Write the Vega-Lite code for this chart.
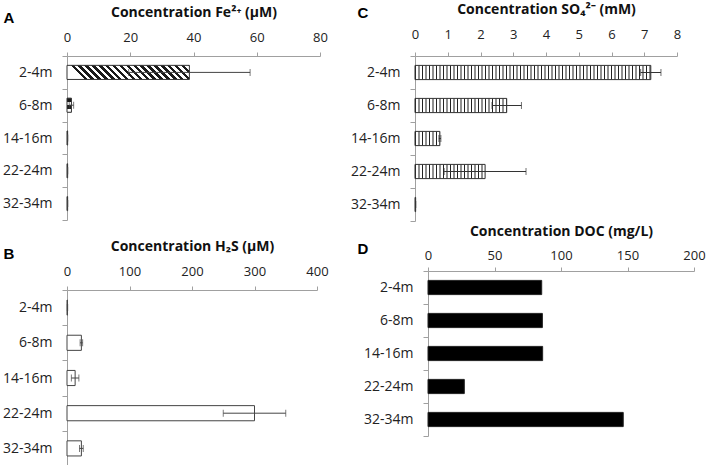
{
  "$schema": "https://vega.github.io/schema/vega-lite/v6.json",
  "padding": {"left": 2, "top": 2, "right": 5, "bottom": 2},
  "background": "white",
  "datasets": {
    "fe": [
      {"depth": "2-4m", "value": 38.7, "err": 19.2},
      {"depth": "6-8m", "value": 1.4, "err": 0.7},
      {"depth": "14-16m", "value": 0.2, "err": 0},
      {"depth": "22-24m", "value": 0.2, "err": 0},
      {"depth": "32-34m", "value": 0.2, "err": 0}
    ],
    "h2s": [
      {"depth": "2-4m", "value": 0.8, "err": 0.3},
      {"depth": "6-8m", "value": 23, "err": 2},
      {"depth": "14-16m", "value": 13, "err": 6},
      {"depth": "22-24m", "value": 300, "err": 50},
      {"depth": "32-34m", "value": 23, "err": 3}
    ],
    "so4": [
      {"depth": "2-4m", "value": 7.2, "err": 0.31},
      {"depth": "6-8m", "value": 2.8, "err": 0.45},
      {"depth": "14-16m", "value": 0.76, "err": 0.03},
      {"depth": "22-24m", "value": 2.14, "err": 1.25},
      {"depth": "32-34m", "value": 0.02, "err": 0}
    ],
    "doc": [
      {"depth": "2-4m", "value": 85.5},
      {"depth": "6-8m", "value": 86},
      {"depth": "14-16m", "value": 86.2},
      {"depth": "22-24m", "value": 27.3},
      {"depth": "32-34m", "value": 146.8}
    ]
  },
  "spacing": 21,
  "hconcat": [
    {
      "spacing": 18,
      "vconcat": [
        {
          "width": 253,
          "height": 164,
          "data": {"name": "fe"},
          "encoding": {
            "y": {"field": "depth", "type": "nominal", "sort": ["2-4m", "6-8m", "14-16m", "22-24m", "32-34m"], "scale": {"paddingInner": 0, "paddingOuter": 0},
              "axis": {"title": "A", "titleX": -64, "titleY": -34}},
            "x": {"field": "value", "type": "quantitative", "scale": {"domain": [0, 80], "nice": false}, "axis": {"title": "Concentration Fe²⁺ (µM)", "values": [0, 20, 40, 60, 80]}}
          },
          "layer": [
            {
              "mark": {"type": "bar", "height": {"band": 0.43}, "stroke": "#333", "strokeWidth": 1,
                "fill": {"gradient": "linear", "x1": 0, "y1": 0, "x2": 1, "y2": -0.1148, "stops": [
                  {"offset": 0, "color": "#fff"}, {"offset": 0.0278, "color": "#fff"}, {"offset": 0.0278, "color": "#1a1a1a"}, {"offset": 0.0556, "color": "#1a1a1a"},
                  {"offset": 0.0556, "color": "#fff"}, {"offset": 0.0833, "color": "#fff"}, {"offset": 0.0833, "color": "#1a1a1a"}, {"offset": 0.1111, "color": "#1a1a1a"},
                  {"offset": 0.1111, "color": "#fff"}, {"offset": 0.1389, "color": "#fff"}, {"offset": 0.1389, "color": "#1a1a1a"}, {"offset": 0.1667, "color": "#1a1a1a"},
                  {"offset": 0.1667, "color": "#fff"}, {"offset": 0.1944, "color": "#fff"}, {"offset": 0.1944, "color": "#1a1a1a"}, {"offset": 0.2222, "color": "#1a1a1a"},
                  {"offset": 0.2222, "color": "#fff"}, {"offset": 0.25, "color": "#fff"}, {"offset": 0.25, "color": "#1a1a1a"}, {"offset": 0.2778, "color": "#1a1a1a"},
                  {"offset": 0.2778, "color": "#fff"}, {"offset": 0.3056, "color": "#fff"}, {"offset": 0.3056, "color": "#1a1a1a"}, {"offset": 0.3333, "color": "#1a1a1a"},
                  {"offset": 0.3333, "color": "#fff"}, {"offset": 0.3611, "color": "#fff"}, {"offset": 0.3611, "color": "#1a1a1a"}, {"offset": 0.3889, "color": "#1a1a1a"},
                  {"offset": 0.3889, "color": "#fff"}, {"offset": 0.4167, "color": "#fff"}, {"offset": 0.4167, "color": "#1a1a1a"}, {"offset": 0.4444, "color": "#1a1a1a"},
                  {"offset": 0.4444, "color": "#fff"}, {"offset": 0.4722, "color": "#fff"}, {"offset": 0.4722, "color": "#1a1a1a"}, {"offset": 0.5, "color": "#1a1a1a"},
                  {"offset": 0.5, "color": "#fff"}, {"offset": 0.5278, "color": "#fff"}, {"offset": 0.5278, "color": "#1a1a1a"}, {"offset": 0.5556, "color": "#1a1a1a"},
                  {"offset": 0.5556, "color": "#fff"}, {"offset": 0.5833, "color": "#fff"}, {"offset": 0.5833, "color": "#1a1a1a"}, {"offset": 0.6111, "color": "#1a1a1a"},
                  {"offset": 0.6111, "color": "#fff"}, {"offset": 0.6389, "color": "#fff"}, {"offset": 0.6389, "color": "#1a1a1a"}, {"offset": 0.6667, "color": "#1a1a1a"},
                  {"offset": 0.6667, "color": "#fff"}, {"offset": 0.6944, "color": "#fff"}, {"offset": 0.6944, "color": "#1a1a1a"}, {"offset": 0.7222, "color": "#1a1a1a"},
                  {"offset": 0.7222, "color": "#fff"}, {"offset": 0.75, "color": "#fff"}, {"offset": 0.75, "color": "#1a1a1a"}, {"offset": 0.7778, "color": "#1a1a1a"},
                  {"offset": 0.7778, "color": "#fff"}, {"offset": 0.8056, "color": "#fff"}, {"offset": 0.8056, "color": "#1a1a1a"}, {"offset": 0.8333, "color": "#1a1a1a"},
                  {"offset": 0.8333, "color": "#fff"}, {"offset": 0.8611, "color": "#fff"}, {"offset": 0.8611, "color": "#1a1a1a"}, {"offset": 0.8889, "color": "#1a1a1a"},
                  {"offset": 0.8889, "color": "#fff"}, {"offset": 0.9167, "color": "#fff"}, {"offset": 0.9167, "color": "#1a1a1a"}, {"offset": 0.9444, "color": "#1a1a1a"},
                  {"offset": 0.9444, "color": "#fff"}, {"offset": 0.9722, "color": "#fff"}, {"offset": 0.9722, "color": "#1a1a1a"}, {"offset": 1, "color": "#1a1a1a"}
                ]}
              }
            },
            {
              "mark": {"type": "errorbar", "color": "#444", "thickness": 1, "ticks": {"size": 7, "thickness": 1}},
              "encoding": {"xError": {"field": "err"}}
            }
          ]
        },
        {
          "width": 250,
          "height": 176,
          "data": {"name": "h2s"},
          "encoding": {
            "y": {"field": "depth", "type": "nominal", "sort": ["2-4m", "6-8m", "14-16m", "22-24m", "32-34m"], "scale": {"paddingInner": 0, "paddingOuter": 0},
              "axis": {"title": "B", "titleX": -64, "titleY": -32}},
            "x": {"field": "value", "type": "quantitative", "scale": {"domain": [0, 400], "nice": false}, "axis": {"title": "Concentration H₂S (µM)", "values": [0, 100, 200, 300, 400]}}
          },
          "layer": [
            {"mark": {"type": "bar", "height": {"band": 0.43}, "fill": "#fff", "stroke": "#444", "strokeWidth": 1}},
            {
              "mark": {"type": "errorbar", "color": "#444", "thickness": 1, "ticks": {"size": 7, "thickness": 1}},
              "encoding": {"xError": {"field": "err"}}
            }
          ]
        }
      ]
    },
    {
      "spacing": 2,
      "vconcat": [
        {
          "width": 262,
          "height": 165,
          "data": {"name": "so4"},
          "encoding": {
            "y": {"field": "depth", "type": "nominal", "sort": ["2-4m", "6-8m", "14-16m", "22-24m", "32-34m"], "scale": {"paddingInner": 0, "paddingOuter": 0},
              "axis": {"title": "C", "titleX": -58, "titleY": -39}},
            "x": {"field": "value", "type": "quantitative", "scale": {"domain": [0, 8], "nice": false}, "axis": {"title": "Concentration SO₄²⁻ (mM)", "values": [0, 1, 2, 3, 4, 5, 6, 7, 8], "labelPadding": 11}}
          },
          "layer": [
            {"mark": {"type": "bar", "height": {"band": 0.43}, "fill": "#fff", "stroke": null}},
            {
              "mark": {"type": "rule", "color": "#222", "strokeWidth": 14, "strokeDash": [1, 2.5], "strokeCap": "butt"},
              "encoding": {"x": {"datum": 0, "type": "quantitative"}, "x2": {"field": "value"}}
            },
            {"mark": {"type": "bar", "height": {"band": 0.43}, "fill": "transparent", "stroke": "#333", "strokeWidth": 1}},
            {
              "mark": {"type": "errorbar", "color": "#333", "thickness": 1, "ticks": {"size": 7, "thickness": 1}},
              "encoding": {"xError": {"field": "err"}}
            }
          ]
        },
        {
          "width": 279,
          "height": 165,
          "data": {"name": "doc"},
          "encoding": {
            "y": {"field": "depth", "type": "nominal", "sort": ["2-4m", "6-8m", "14-16m", "22-24m", "32-34m"], "scale": {"paddingInner": 0, "paddingOuter": 0},
              "axis": {"title": "D", "titleX": -71, "titleY": -18, "offset": -13}},
            "x": {"field": "value", "type": "quantitative", "scale": {"domain": [0, 200], "nice": false, "range": [13, 279]}, "axis": {"title": "Concentration DOC (mg/L)", "values": [0, 50, 100, 150, 200], "labelPadding": 5, "titlePadding": 11}}
          },
          "layer": [
            {"mark": {"type": "bar", "height": {"band": 0.43}, "fill": "#000", "stroke": "#222", "strokeWidth": 1}}
          ]
        }
      ]
    }
  ],
  "config": {
    "font": "Open Sans",
    "view": {"stroke": null},
    "axisX": {
      "orient": "top",
      "grid": false,
      "domainColor": "#a0a0a0",
      "tickColor": "#a0a0a0",
      "tickSize": 4,
      "labelFont": "Open Sans",
      "labelFontSize": 13,
      "labelColor": "#222",
      "labelFlush": false,
      "labelOverlap": false,
      "labelPadding": 8,
      "titleFont": "Open Sans",
      "titleFontSize": 14,
      "titleFontWeight": "bold",
      "titleColor": "#111",
      "titlePadding": 12
    },
    "axisY": {
      "grid": false,
      "tickBand": "extent",
      "domainColor": "#a0a0a0",
      "tickColor": "#a0a0a0",
      "tickSize": 5,
      "labelFont": "Open Sans",
      "labelFontSize": 14,
      "labelColor": "#222",
      "labelPadding": 10,
      "titleAngle": 0,
      "titleAlign": "left",
      "titleBaseline": "alphabetic",
      "titleFont": "Liberation Sans",
      "titleFontSize": 15,
      "titleFontWeight": "bold",
      "titleColor": "#000"
    }
  }
}
